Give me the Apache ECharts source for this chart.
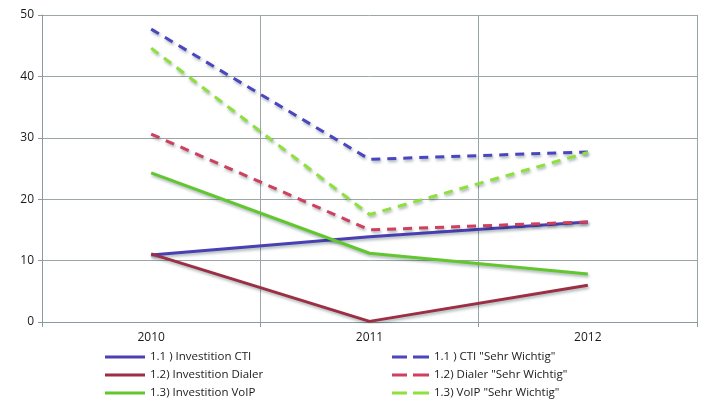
<!DOCTYPE html>
<html><head><meta charset="utf-8">
<script src="https://cdn.jsdelivr.net/npm/echarts@6/dist/echarts.min.js"></script>
<style>html,body{margin:0;padding:0;background:#fff}#c{width:720px;height:405px}</style>
</head><body><div id="c"></div>
<script>
const categories = ['2010', '2011', '2012'];
const ctiInvest = [10.9, 13.9, 16.3];
const dialerInvest = [11.1, 0.1, 6.0];
const voipInvest = [24.3, 11.2, 7.8];
const ctiWichtig = [47.7, 26.5, 27.7];
const dialerWichtig = [30.6, 15.0, 16.3];
const voipWichtig = [44.6, 17.5, 27.6];
const yTicks = [0, 10, 20, 30, 40, 50];

function s(name, data, color, dashed) {
  return {
    name, type: 'line', data, symbol: 'none', smooth: false,
    lineStyle: { color, width: 3, type: dashed ? [9, 7] : 'solid',
      shadowColor: 'rgba(0,40,40,0.35)', shadowBlur: 3, shadowOffsetX: 1, shadowOffsetY: 2 },
    itemStyle: { color }
  };
}
const chart = echarts.init(document.getElementById('c'), null, { renderer: 'canvas' });
const legendText = { fontFamily: 'Open Sans, Noto Sans, sans-serif', fontSize: 11.5, color: '#1a1a1a' };
chart.setOption({
  animation: false,
  grid: { left: 42, right: 23, top: 15, bottom: 83 },
  xAxis: {
    type: 'category', data: categories, boundaryGap: true,
    axisLine: { lineStyle: { color: '#8a9ba0', width: 1 } },
    axisTick: { show: true, length: 5, lineStyle: { color: '#8a9ba0' } },
    splitLine: { show: true, lineStyle: { color: '#9aa6a8', width: 1 } },
    axisLabel: { color: '#1a1a1a', fontSize: 12, margin: 10, fontFamily: 'Open Sans, Noto Sans, sans-serif' }
  },
  yAxis: {
    type: 'value', min: yTicks[0], max: yTicks[yTicks.length - 1], interval: 10,
    axisLine: { show: true, lineStyle: { color: '#8a9ba0' } },
    axisTick: { show: true, length: 4, lineStyle: { color: '#8a9ba0' } },
    splitLine: { show: true, lineStyle: { color: '#9aa6a8', width: 1 } },
    axisLabel: { color: '#1a1a1a', fontSize: 12, margin: 8, fontFamily: 'Open Sans, Noto Sans, sans-serif' }
  },
  legend: [
    { orient: 'vertical', left: 100, top: 346, height: 60, itemWidth: 40, itemHeight: 3, itemGap: 6,
      icon: 'path://M0,0 L40,0 L40,3 L0,3 Z',
      data: ['1.1 ) Investition CTI', '1.2) Investition Dialer', '1.3) Investition VoIP'],
      textStyle: legendText },
    { orient: 'vertical', left: 387, top: 346, height: 60, itemWidth: 37, itemHeight: 3, itemGap: 6,
      icon: 'path://M0,0 L15,0 L15,3 L0,3 Z M21,0 L37,0 L37,3 L21,3 Z',
      data: ['1.1 ) CTI "Sehr Wichtig"', '1.2) Dialer "Sehr Wichtig"', '1.3) VoIP "Sehr Wichtig"'],
      textStyle: legendText }
  ],
  series: [
    s('1.1 ) Investition CTI', ctiInvest, '#4a3fb3', false),
    s('1.2) Investition Dialer', dialerInvest, '#9c2f45', false),
    s('1.3) Investition VoIP', voipInvest, '#62c62e', false),
    s('1.1 ) CTI "Sehr Wichtig"', ctiWichtig, '#4b45c0', true),
    s('1.2) Dialer "Sehr Wichtig"', dialerWichtig, '#cf3f5e', true),
    s('1.3) VoIP "Sehr Wichtig"', voipWichtig, '#8ee03c', true)
  ]
});
</script></body></html>
